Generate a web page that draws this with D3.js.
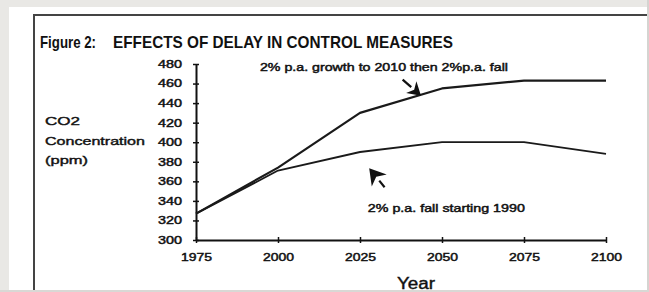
<!DOCTYPE html>
<meta charset="utf-8">
<script src="https://d3js.org/d3.v7.min.js"></script>
<style>
body { margin: 0; background: #e9e8e5; }
svg { display: block; }
text { font-family: "Liberation Sans", Arial, sans-serif; fill: #111; }
</style>
<div id="chart"></div>
<script>
// chart data
var years = [1975, 2000, 2025, 2050, 2075, 2100];
var delayedCut = [327, 374, 430, 455, 463, 463];   // 2% growth to 2010 then 2% fall
var earlyCut = [327, 371, 390, 400, 400, 388];     // 2% fall starting 1990
var yTicks = [300, 320, 340, 360, 380, 400, 420, 440, 460, 480];
var xTicks = [1975, 2000, 2025, 2050, 2075, 2100];

var W = 649, H = 292;

var svg = d3.select("#chart").append("svg")
  .attr("width", W)
  .attr("height", H);

// white paper + scanned frame
svg.append("rect").attr("x", 9).attr("y", 7).attr("width", 638).attr("height", 283).attr("fill", "#fff");
svg.append("line").attr("x1", 33).attr("x2", 647).attr("y1", 15).attr("y2", 15)
  .attr("stroke", "#444").attr("stroke-width", 2);
svg.append("line").attr("x1", 34).attr("x2", 34).attr("y1", 15).attr("y2", 292)
  .attr("stroke", "#444").attr("stroke-width", 2);

var x = d3.scaleLinear().domain([1975, 2100]).range([196, 606]);
var y = d3.scaleLinear().domain([300, 480]).range([240, 64]);

// title
svg.append("text").attr("x", 40).attr("y", 48)
  .style("font-size", "17px").style("font-weight", "bold")
  .attr("textLength", 56).attr("lengthAdjust", "spacingAndGlyphs")
  .text("Figure 2:");
svg.append("text").attr("x", 113).attr("y", 48)
  .style("font-size", "17px").style("font-weight", "bold")
  .attr("textLength", 340).attr("lengthAdjust", "spacingAndGlyphs")
  .text("EFFECTS OF DELAY  IN CONTROL MEASURES");

// y axis title
var yTitle = ["CO2", "Concentration", "(ppm)"];
var yTitleLen = [35, 100, 43];
svg.selectAll(".ytitle").data(yTitle).enter().append("text")
  .attr("class", "ytitle")
  .attr("x", 45)
  .attr("y", function(d, i) { return 125 + i * 19.5; })
  .style("font-size", "11.5px")
  .style("stroke", "#111").style("stroke-width", 0.4)
  .attr("textLength", function(d, i) { return yTitleLen[i]; })
  .attr("lengthAdjust", "spacingAndGlyphs")
  .text(function(d) { return d; });

// y axis
var gy = svg.append("g")
  .attr("transform", "translate(" + x(1975) + ",0)")
  .call(d3.axisLeft(y).tickValues(yTicks).tickSize(3).tickSizeOuter(0).tickPadding(11));
gy.select(".domain").attr("stroke", "#111").attr("stroke-width", 2);
gy.selectAll(".tick line").attr("x1", -3).attr("x2", 3).attr("stroke", "#111").attr("stroke-width", 1.5);
gy.selectAll(".tick text")
  .style("font-size", "10.5px").style("font-family", "Liberation Sans, Arial, sans-serif")
  .style("stroke", "#111").style("stroke-width", 0.45)
  .attr("textLength", 24).attr("lengthAdjust", "spacingAndGlyphs");

// x axis
var gx = svg.append("g")
  .attr("transform", "translate(0," + y(300) + ")")
  .call(d3.axisBottom(x).tickValues(xTicks).tickFormat(d3.format("d")).tickSize(3).tickSizeOuter(0).tickPadding(10));
gx.select(".domain").attr("stroke", "#111").attr("stroke-width", 2);
gx.selectAll(".tick line").attr("y1", -3).attr("y2", 3).attr("stroke", "#111").attr("stroke-width", 1.5);
gx.selectAll(".tick text")
  .style("font-size", "11px").style("font-family", "Liberation Sans, Arial, sans-serif")
  .style("stroke", "#111").style("stroke-width", 0.45)
  .attr("textLength", 31).attr("lengthAdjust", "spacingAndGlyphs");

svg.append("text")
  .attr("x", x(2050) - 45)
  .attr("y", 289)
  .style("font-size", "16px")
  .style("stroke", "#111").style("stroke-width", 0.4)
  .attr("textLength", 38).attr("lengthAdjust", "spacingAndGlyphs")
  .text("Year");

// lines
var line = d3.line()
  .x(function(d) { return x(d[0]); })
  .y(function(d) { return y(d[1]); });

svg.append("path")
  .datum(d3.zip(years, delayedCut))
  .attr("fill", "none").attr("stroke", "#1a1a1a").attr("stroke-width", 2.2)
  .attr("stroke-linejoin", "round")
  .attr("d", line);

svg.append("path")
  .datum(d3.zip(years, earlyCut))
  .attr("fill", "none").attr("stroke", "#1a1a1a").attr("stroke-width", 1.8)
  .attr("stroke-linejoin", "round")
  .attr("d", line);

// annotations
svg.append("text")
  .attr("x", x(1994.5)).attr("y", y(473))
  .style("font-size", "10.5px")
  .style("stroke", "#111").style("stroke-width", 0.45)
  .attr("textLength", 248).attr("lengthAdjust", "spacingAndGlyphs")
  .text("2% p.a. growth to 2010 then 2%p.a. fall");

svg.append("text")
  .attr("x", x(2027.4)).attr("y", y(329))
  .style("font-size", "10.5px")
  .style("stroke", "#111").style("stroke-width", 0.45)
  .attr("textLength", 157).attr("lengthAdjust", "spacingAndGlyphs")
  .text("2% p.a. fall starting 1990");

// arrows: drawn pointing at (tx, ty) from (fx, fy)
function arrow(fromYear, fromVal, toYear, toVal, head) {
  var fx = x(fromYear), fy = y(fromVal), tx = x(toYear), ty = y(toVal);
  var a = Math.atan2(ty - fy, tx - fx);
  var hx = tx - head * Math.cos(a), hy = ty - head * Math.sin(a);
  svg.append("line")
    .attr("x1", fx).attr("y1", fy).attr("x2", hx).attr("y2", hy)
    .attr("stroke", "#111").attr("stroke-width", 2.2);
  var w = head * 0.6;
  var pts = [
    [tx, ty],
    [hx + w * Math.sin(a), hy - w * Math.cos(a)],
    [hx + head * 0.3 * Math.cos(a), hy + head * 0.3 * Math.sin(a)],
    [hx - w * Math.sin(a), hy + w * Math.cos(a)]
  ];
  svg.append("polygon")
    .attr("points", pts.map(function(p) { return p.join(","); }).join(" "))
    .attr("fill", "#111");
}

arrow(2038.0, 464, 2043.6, 447.5, 13);
arrow(2032.5, 354, 2027.8, 373.5, 16);

// right scan edge
svg.append("rect").attr("x", 647).attr("y", 0).attr("width", 2).attr("height", H).attr("fill", "#d5d4d1");
svg.append("rect").attr("x", 0).attr("y", 290).attr("width", W).attr("height", 2).attr("fill", "#d9d8d5");
</script>
